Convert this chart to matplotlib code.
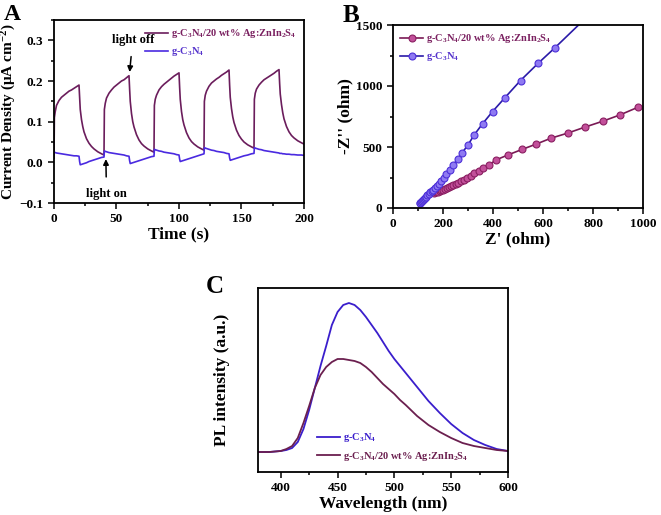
import numpy as np
import matplotlib
matplotlib.use('Agg')
import matplotlib.pyplot as plt
from matplotlib.ticker import MultipleLocator

plt.rcParams['font.family'] = 'Liberation Serif'
plt.rcParams['font.weight'] = 'bold'
plt.rcParams['mathtext.fontset'] = 'custom'
plt.rcParams['mathtext.rm'] = 'Liberation Serif:bold'
plt.rcParams['mathtext.it'] = 'Liberation Serif:bold'
plt.rcParams['mathtext.bf'] = 'Liberation Serif:bold'
plt.rcParams['mathtext.default'] = 'rm'

LBL_COMP = r'g-C$_3$N$_4$/20 wt% Ag:ZnIn$_2$S$_4$'
LBL_CN = r'g-C$_3$N$_4$'

# ---- panel A: photocurrent, 5 on/off cycles of 40 s (on at start, off at +20 s)
cycle_starts = [0, 40, 80, 120, 160]
t_rel = [0, 0.3, 1, 2, 4, 6, 8, 10, 12, 14, 16, 18, 20, 20.5, 21, 22, 23, 24,
         26, 28, 30, 32, 35, 38]
comp_cycles = [
    [0.010, 0.110, 0.125, 0.140, 0.152, 0.160, 0.165, 0.170, 0.175, 0.178, 0.182, 0.186, 0.190,
     0.160, 0.130, 0.105, 0.088, 0.075, 0.058, 0.047, 0.039, 0.033, 0.026, 0.021],
    [0.018, 0.130, 0.145, 0.158, 0.170, 0.178, 0.185, 0.190, 0.195, 0.200, 0.203, 0.208, 0.213,
     0.180, 0.150, 0.120, 0.100, 0.087, 0.068, 0.055, 0.046, 0.040, 0.033, 0.028],
    [0.025, 0.140, 0.155, 0.165, 0.178, 0.186, 0.192, 0.197, 0.202, 0.207, 0.212, 0.216, 0.220,
     0.185, 0.155, 0.125, 0.105, 0.092, 0.073, 0.060, 0.051, 0.045, 0.038, 0.033],
    [0.030, 0.150, 0.165, 0.175, 0.187, 0.195, 0.200, 0.205, 0.209, 0.214, 0.218, 0.222, 0.227,
     0.190, 0.160, 0.132, 0.112, 0.098, 0.079, 0.066, 0.057, 0.050, 0.043, 0.038],
    [0.035, 0.155, 0.170, 0.180, 0.190, 0.197, 0.203, 0.207, 0.211, 0.215, 0.219, 0.224, 0.228,
     0.195, 0.168, 0.142, 0.122, 0.107, 0.088, 0.075, 0.066, 0.060, 0.053, 0.048],
]
cn_cycles = [
    [0.025, 0.025, 0.024, 0.023, 0.022, 0.021, 0.020, 0.019, 0.018, 0.017, 0.016, 0.016, 0.015,
     0.002, -0.006, -0.005, -0.004, -0.003, -0.001, 0.002, 0.004, 0.006, 0.009, 0.012],
    [0.013, 0.028, 0.027, 0.026, 0.024, 0.023, 0.022, 0.021, 0.020, 0.019, 0.018, 0.016, 0.015,
     0.004, -0.003, -0.002, -0.001, 0.000, 0.002, 0.004, 0.006, 0.008, 0.011, 0.014],
    [0.015, 0.032, 0.031, 0.030, 0.028, 0.027, 0.025, 0.024, 0.023, 0.022, 0.021, 0.019, 0.018,
     0.008, 0.002, 0.003, 0.004, 0.005, 0.007, 0.009, 0.011, 0.013, 0.016, 0.019],
    [0.021, 0.036, 0.035, 0.034, 0.032, 0.030, 0.029, 0.027, 0.026, 0.025, 0.024, 0.022, 0.021,
     0.011, 0.005, 0.006, 0.007, 0.008, 0.010, 0.012, 0.014, 0.016, 0.018, 0.021],
    [0.022, 0.036, 0.035, 0.034, 0.032, 0.031, 0.029, 0.028, 0.027, 0.026, 0.025, 0.024, 0.023,
     0.022, 0.022, 0.022, 0.021, 0.021, 0.020, 0.020, 0.019, 0.019, 0.018, 0.018],
]
t_end = 200
comp_end = 0.045
cn_end = 0.017

# ---- panel B: Nyquist plot
cn_zre = [106, 109, 112, 115, 119, 123, 127, 132, 137, 143, 149, 155, 161, 168, 175, 183, 192,
          202, 213, 226, 241, 258, 277, 299, 325, 358, 398, 448, 510, 580, 648, 760]
cn_zim = [38, 44, 50, 57, 65, 74, 83, 94, 105, 117, 128, 139, 150, 166, 182, 200, 222,
          248, 276, 310, 352, 400, 454, 514, 600, 690, 790, 905, 1045, 1185, 1314, 1535]
comp_zre = [165, 172, 179, 186, 193, 200, 208, 216, 224, 232, 241, 250, 260, 271, 283, 296, 310,
            325, 342, 361, 382, 413, 461, 516, 573, 633, 699, 769, 840, 909, 980]
comp_zim = [124, 129, 134, 139, 144, 150, 157, 164, 171, 178, 187, 196, 207, 219, 233, 248, 265,
            283, 303, 325, 350, 395, 436, 480, 524, 573, 614, 664, 712, 764, 826]

# ---- panel C: PL spectra
wl = [380, 390, 400, 405, 410, 415, 420, 425, 430, 435, 440, 445, 450, 455, 460, 465, 470, 475,
      480, 485, 490, 495, 500, 505, 510, 520, 530, 540, 550, 560, 570, 580, 590, 600]
pl_cn = [20, 20, 21, 22, 24, 30, 43, 62, 84, 106, 126, 147, 160, 167, 169, 167, 162, 155,
         147, 139, 130, 121, 113, 106, 99, 85, 71, 59, 48, 39, 32, 27, 23, 21]
pl_comp = [20, 20, 21, 23, 26, 34, 49, 66, 84, 97, 105, 110, 113, 113, 112, 111, 109, 105,
           100, 94, 88, 83, 78, 72, 67, 56, 47, 40, 34, 29, 26, 24, 22, 21]

C_COMP = '#6b1d5c'
C_CN = '#4a2ae0'
T_COMP = '#7a2060'
T_CN = '#5533cc'

fig = plt.figure(figsize=(6.61, 5.15), dpi=100)
axA = fig.add_axes([54/661, 1-203/515, 250/661, 183/515])
axB = fig.add_axes([393/661, 1-208/515, 250/661, 183/515])
axC = fig.add_axes([258/661, 1-472/515, 250/661, 184/515])


def style(ax):
    for s in ax.spines.values():
        s.set_linewidth(1.3)
    ax.tick_params(which='both', direction='out', width=1.1, labelsize=9.5)
    ax.tick_params(which='major', length=4)
    ax.tick_params(which='minor', length=2.5)
    for lab in ax.get_xticklabels() + ax.get_yticklabels():
        lab.set_fontweight('bold')


# A
t_all, comp_all, cn_all = [], [], []
for start, cv, bv in zip(cycle_starts, comp_cycles, cn_cycles):
    t_all += [start + t for t in t_rel]
    comp_all += cv
    cn_all += bv
t_all.append(t_end); comp_all.append(comp_end); cn_all.append(cn_end)
axA.plot(t_all, comp_all, color=C_COMP, lw=1.2, label=LBL_COMP)
axA.plot(t_all, cn_all, color=C_CN, lw=1.2, label=LBL_CN)
axA.set_xlim(0, 200)
axA.set_ylim(-0.1, 0.35)
axA.xaxis.set_major_locator(MultipleLocator(50))
axA.xaxis.set_minor_locator(MultipleLocator(25))
axA.yaxis.set_major_locator(MultipleLocator(0.1))
axA.yaxis.set_minor_locator(MultipleLocator(0.05))
axA.set_xlabel('Time (s)', fontsize=12.5, fontweight='bold', labelpad=1)
axA.set_ylabel(r'Current Density ($\mu$A cm$^{-2}$)', fontsize=11, fontweight='bold', labelpad=1)
style(axA)
legA = axA.legend(loc='upper right', frameon=False, fontsize=7.5, handlelength=2.2,
                  handletextpad=0.3, borderaxespad=0.3, labelspacing=0.5)
for txt, c in zip(legA.get_texts(), [T_COMP, T_CN]):
    txt.set_color(c)
axA.annotate('light off', xy=(60.5, 0.222), xytext=(63, 0.302), ha='center', va='center',
             fontsize=9, fontweight='bold',
             arrowprops=dict(arrowstyle='-|>', color='black', lw=1.1, mutation_scale=8,
                             shrinkA=6, shrinkB=0))
axA.annotate('light on', xy=(41.5, 0.008), xytext=(42, -0.078), ha='center', va='center',
             fontsize=9, fontweight='bold',
             arrowprops=dict(arrowstyle='-|>', color='black', lw=1.1, mutation_scale=8,
                             shrinkA=6, shrinkB=0))

# B
axB.plot(comp_zre, comp_zim, color='#7a1a55', lw=1.2, marker='o', markersize=5,
         markerfacecolor='#c2509a', markeredgecolor='#8a1f62', markeredgewidth=0.8,
         label=LBL_COMP)
axB.plot(cn_zre, cn_zim, color='#2a1aa8', lw=1.2, marker='o', markersize=5,
         markerfacecolor='#8f7af2', markeredgecolor='#4d30d8', markeredgewidth=0.8,
         markevery=slice(0, len(cn_zre) - 1), label=LBL_CN)
axB.set_xlim(0, 1000)
axB.set_ylim(0, 1500)
axB.xaxis.set_major_locator(MultipleLocator(200))
axB.xaxis.set_minor_locator(MultipleLocator(100))
axB.yaxis.set_major_locator(MultipleLocator(500))
axB.yaxis.set_minor_locator(MultipleLocator(250))
axB.set_xlabel("Z' (ohm)", fontsize=12.5, fontweight='bold', labelpad=1)
axB.set_ylabel("-Z'' (ohm)", fontsize=12.5, fontweight='bold', labelpad=2)
style(axB)
legB = axB.legend(loc='upper left', frameon=False, fontsize=7.5, handlelength=2.2,
                  handletextpad=0.3, borderaxespad=0.3, labelspacing=0.5)
for txt, c in zip(legB.get_texts(), [T_COMP, T_CN]):
    txt.set_color(c)

# C
axC.plot(wl, pl_cn, color='#3a1ecc', lw=1.3, label=LBL_CN)
axC.plot(wl, pl_comp, color='#6b1f4f', lw=1.3, label=LBL_COMP)
axC.set_xlim(380, 600)
axC.set_ylim(0, 184)
axC.xaxis.set_major_locator(MultipleLocator(50))
axC.xaxis.set_minor_locator(MultipleLocator(25))
axC.set_yticks([])
axC.set_xlabel('Wavelength (nm)', fontsize=12.5, fontweight='bold', labelpad=1)
axC.set_ylabel('PL intensity (a.u.)', fontsize=12.5, fontweight='bold', labelpad=20)
style(axC)
legC = axC.legend(loc='lower left', bbox_to_anchor=(0.2, 0.0), frameon=False, fontsize=7.5,
                  handlelength=2.2, handletextpad=0.3, labelspacing=0.5)
for txt, c in zip(legC.get_texts(), ['#3a1ecc', '#6b1f4f']):
    txt.set_color(c)

fig.text(4/661, 1-20/515, 'A', fontsize=17, fontweight='bold')
fig.text(343/661, 1-22/515, 'B', fontsize=18, fontweight='bold')
fig.text(206/661, 1-293/515, 'C', fontsize=18, fontweight='bold')

fig.savefig('out.png', dpi=100)
